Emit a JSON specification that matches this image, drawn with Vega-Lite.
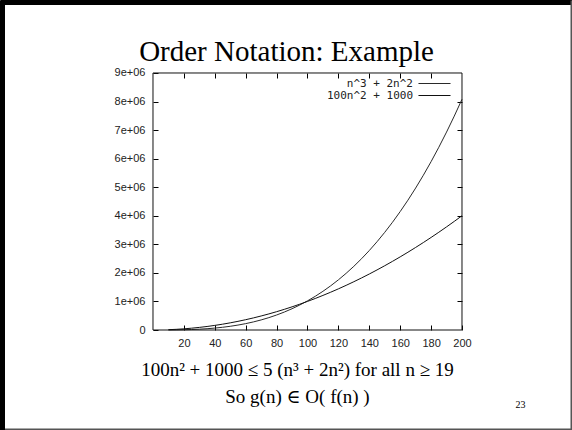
{
  "$schema": "https://vega.github.io/schema/vega-lite/v6.json",
  "width": 572,
  "height": 430,
  "autosize": {"type": "none"},
  "padding": 0,
  "background": "white",
  "config": {"view": {"stroke": null}, "axis": {"grid": false}},
  "resolve": {"axis": {"x": "independent", "y": "independent"}},
  "layer": [
    {
      "data": {
        "values": [
          {"n": 10, "series": "n^3 + 2n^2", "v": 1200},
          {"n": 15, "series": "n^3 + 2n^2", "v": 3825},
          {"n": 20, "series": "n^3 + 2n^2", "v": 8800},
          {"n": 25, "series": "n^3 + 2n^2", "v": 16875},
          {"n": 30, "series": "n^3 + 2n^2", "v": 28800},
          {"n": 35, "series": "n^3 + 2n^2", "v": 45325},
          {"n": 40, "series": "n^3 + 2n^2", "v": 67200},
          {"n": 45, "series": "n^3 + 2n^2", "v": 95175},
          {"n": 50, "series": "n^3 + 2n^2", "v": 130000},
          {"n": 55, "series": "n^3 + 2n^2", "v": 172425},
          {"n": 60, "series": "n^3 + 2n^2", "v": 223200},
          {"n": 65, "series": "n^3 + 2n^2", "v": 283075},
          {"n": 70, "series": "n^3 + 2n^2", "v": 352800},
          {"n": 75, "series": "n^3 + 2n^2", "v": 433125},
          {"n": 80, "series": "n^3 + 2n^2", "v": 524800},
          {"n": 85, "series": "n^3 + 2n^2", "v": 628575},
          {"n": 90, "series": "n^3 + 2n^2", "v": 745200},
          {"n": 95, "series": "n^3 + 2n^2", "v": 875425},
          {"n": 100, "series": "n^3 + 2n^2", "v": 1020000},
          {"n": 105, "series": "n^3 + 2n^2", "v": 1179675},
          {"n": 110, "series": "n^3 + 2n^2", "v": 1355200},
          {"n": 115, "series": "n^3 + 2n^2", "v": 1547325},
          {"n": 120, "series": "n^3 + 2n^2", "v": 1756800},
          {"n": 125, "series": "n^3 + 2n^2", "v": 1984375},
          {"n": 130, "series": "n^3 + 2n^2", "v": 2230800},
          {"n": 135, "series": "n^3 + 2n^2", "v": 2496825},
          {"n": 140, "series": "n^3 + 2n^2", "v": 2783200},
          {"n": 145, "series": "n^3 + 2n^2", "v": 3090675},
          {"n": 150, "series": "n^3 + 2n^2", "v": 3420000},
          {"n": 155, "series": "n^3 + 2n^2", "v": 3771925},
          {"n": 160, "series": "n^3 + 2n^2", "v": 4147200},
          {"n": 165, "series": "n^3 + 2n^2", "v": 4546575},
          {"n": 170, "series": "n^3 + 2n^2", "v": 4970800},
          {"n": 175, "series": "n^3 + 2n^2", "v": 5420625},
          {"n": 180, "series": "n^3 + 2n^2", "v": 5896800},
          {"n": 185, "series": "n^3 + 2n^2", "v": 6400075},
          {"n": 190, "series": "n^3 + 2n^2", "v": 6931200},
          {"n": 195, "series": "n^3 + 2n^2", "v": 7490925},
          {"n": 200, "series": "n^3 + 2n^2", "v": 8080000},
          {"n": 10, "series": "100n^2 + 1000", "v": 11000},
          {"n": 15, "series": "100n^2 + 1000", "v": 23500},
          {"n": 20, "series": "100n^2 + 1000", "v": 41000},
          {"n": 25, "series": "100n^2 + 1000", "v": 63500},
          {"n": 30, "series": "100n^2 + 1000", "v": 91000},
          {"n": 35, "series": "100n^2 + 1000", "v": 123500},
          {"n": 40, "series": "100n^2 + 1000", "v": 161000},
          {"n": 45, "series": "100n^2 + 1000", "v": 203500},
          {"n": 50, "series": "100n^2 + 1000", "v": 251000},
          {"n": 55, "series": "100n^2 + 1000", "v": 303500},
          {"n": 60, "series": "100n^2 + 1000", "v": 361000},
          {"n": 65, "series": "100n^2 + 1000", "v": 423500},
          {"n": 70, "series": "100n^2 + 1000", "v": 491000},
          {"n": 75, "series": "100n^2 + 1000", "v": 563500},
          {"n": 80, "series": "100n^2 + 1000", "v": 641000},
          {"n": 85, "series": "100n^2 + 1000", "v": 723500},
          {"n": 90, "series": "100n^2 + 1000", "v": 811000},
          {"n": 95, "series": "100n^2 + 1000", "v": 903500},
          {"n": 100, "series": "100n^2 + 1000", "v": 1001000},
          {"n": 105, "series": "100n^2 + 1000", "v": 1103500},
          {"n": 110, "series": "100n^2 + 1000", "v": 1211000},
          {"n": 115, "series": "100n^2 + 1000", "v": 1323500},
          {"n": 120, "series": "100n^2 + 1000", "v": 1441000},
          {"n": 125, "series": "100n^2 + 1000", "v": 1563500},
          {"n": 130, "series": "100n^2 + 1000", "v": 1691000},
          {"n": 135, "series": "100n^2 + 1000", "v": 1823500},
          {"n": 140, "series": "100n^2 + 1000", "v": 1961000},
          {"n": 145, "series": "100n^2 + 1000", "v": 2103500},
          {"n": 150, "series": "100n^2 + 1000", "v": 2251000},
          {"n": 155, "series": "100n^2 + 1000", "v": 2403500},
          {"n": 160, "series": "100n^2 + 1000", "v": 2561000},
          {"n": 165, "series": "100n^2 + 1000", "v": 2723500},
          {"n": 170, "series": "100n^2 + 1000", "v": 2891000},
          {"n": 175, "series": "100n^2 + 1000", "v": 3063500},
          {"n": 180, "series": "100n^2 + 1000", "v": 3241000},
          {"n": 185, "series": "100n^2 + 1000", "v": 3423500},
          {"n": 190, "series": "100n^2 + 1000", "v": 3611000},
          {"n": 195, "series": "100n^2 + 1000", "v": 3803500},
          {"n": 200, "series": "100n^2 + 1000", "v": 4001000}
        ]
      },
      "mark": {"type": "line", "strokeWidth": 1},
      "encoding": {
        "x": {
          "field": "n",
          "type": "quantitative",
          "scale": {"domain": [-99.03, 271.2], "nice": false, "zero": false},
          "axis": {
            "orient": "bottom", "offset": -100, "title": null, "domain": false,
            "values": [20, 40, 60, 80, 100, 120, 140, 160, 180, 200],
            "tickSize": -5, "tickColor": "#000", "labelPadding": 12,
            "labelFont": "Liberation Sans", "labelFontSize": 11, "labelColor": "#222",
            "labelFlush": false, "labelOverlap": false, "labelBound": false
          }
        },
        "y": {
          "field": "v",
          "type": "quantitative",
          "scale": {"domain": [-3501946, 11556420], "nice": false, "zero": false},
          "axis": {
            "orient": "left", "offset": -153, "title": null, "domain": false,
            "values": [0, 1000000, 2000000, 3000000, 4000000, 5000000, 6000000, 7000000, 8000000, 9000000],
            "labelExpr": "datum.value == 0 ? '0' : (datum.value / 1000000) + 'e+06'",
            "tickSize": -5, "tickColor": "#000", "labelPadding": 13,
            "labelFont": "Liberation Sans", "labelFontSize": 11, "labelColor": "#222",
            "labelFlush": false, "labelOverlap": false, "labelBound": false
          }
        },
        "stroke": {
          "field": "series",
          "type": "nominal",
          "scale": {"domain": ["n^3 + 2n^2", "100n^2 + 1000"], "range": ["#2a2a2a", "#111111"]},
          "legend": {
            "orient": "none", "legendX": 428, "legendY": 77, "title": null,
            "symbolType": "M-2.67,0H2.67", "symbolSize": 144, "symbolStrokeWidth": 1,
            "labelAlign": "right", "labelOffset": -28,
            "labelFont": "DejaVu Sans Mono", "labelFontSize": 11, "labelColor": "#222",
            "padding": 0, "rowPadding": 0
          }
        }
      }
    },
    {
      "data": {"values": [{}]},
      "mark": {"type": "rect", "filled": false, "stroke": "#111", "strokeWidth": 1},
      "encoding": {
        "x": {
          "datum": 0, "type": "quantitative",
          "axis": {
            "orient": "top", "offset": -73, "title": null, "domain": false, "labels": false,
            "values": [20, 40, 60, 80, 100, 120, 140, 160, 180],
            "tickSize": -5, "tickColor": "#000"
          }
        },
        "x2": {"datum": 200},
        "y": {
          "datum": 0, "type": "quantitative",
          "axis": {
            "orient": "right", "offset": -110, "title": null, "domain": false, "labels": false,
            "values": [1000000, 2000000, 3000000, 4000000, 5000000, 6000000, 7000000, 8000000],
            "tickSize": -5, "tickColor": "#000"
          }
        },
        "y2": {"datum": 9000000}
      }
    },
    {
      "data": {"values": [{}]},
      "mark": {"type": "rect", "opacity": 0},
      "encoding": {
        "x": {
          "datum": 0, "type": "quantitative",
          "axis": {
            "orient": "top", "zindex": 1, "domain": true, "domainColor": "#000", "domainWidth": 9,
            "ticks": false, "labels": false,
            "title": "Order Notation: Example",
            "titleX": 286, "titleY": 60, "titleAlign": "center", "titleBaseline": "alphabetic",
            "titleFont": "Liberation Serif", "titleFontSize": 29, "titleFontWeight": "normal", "titleColor": "#000"
          }
        },
        "x2": {"datum": 200},
        "y": {
          "datum": 0, "type": "quantitative",
          "axis": {
            "orient": "left", "zindex": 1, "title": null, "domain": true, "domainColor": "#000", "domainWidth": 9,
            "ticks": false, "labels": false
          }
        },
        "y2": {"datum": 9000000}
      }
    },
    {
      "data": {"values": [{}]},
      "mark": {"type": "rect", "opacity": 0},
      "encoding": {
        "x": {
          "datum": 0, "type": "quantitative",
          "axis": {
            "orient": "bottom", "zindex": 1, "domain": true, "domainColor": "#555", "domainWidth": 4,
            "ticks": false, "labels": false,
            "title": ["100n² + 1000  ≤ 5 (n³ + 2n²) for all n ≥ 19", "So g(n) ∈ O( f(n) )"],
            "titleX": 297, "titleY": -55, "titleAlign": "center", "titleBaseline": "alphabetic",
            "titleLineHeight": 27,
            "titleFont": "Liberation Serif, DejaVu Serif", "titleFontSize": 19, "titleFontWeight": "normal", "titleColor": "#000"
          }
        },
        "x2": {"datum": 200},
        "y": {
          "datum": 0, "type": "quantitative",
          "axis": {
            "orient": "right", "zindex": 1, "domain": true, "domainColor": "#555", "domainWidth": 4,
            "ticks": false, "labels": false,
            "title": "23", "titleAngle": 0, "titleX": -52, "titleY": 407,
            "titleAlign": "center", "titleBaseline": "alphabetic",
            "titleFont": "Liberation Serif", "titleFontSize": 10, "titleFontWeight": "normal", "titleColor": "#000"
          }
        },
        "y2": {"datum": 9000000}
      }
    }
  ]
}
